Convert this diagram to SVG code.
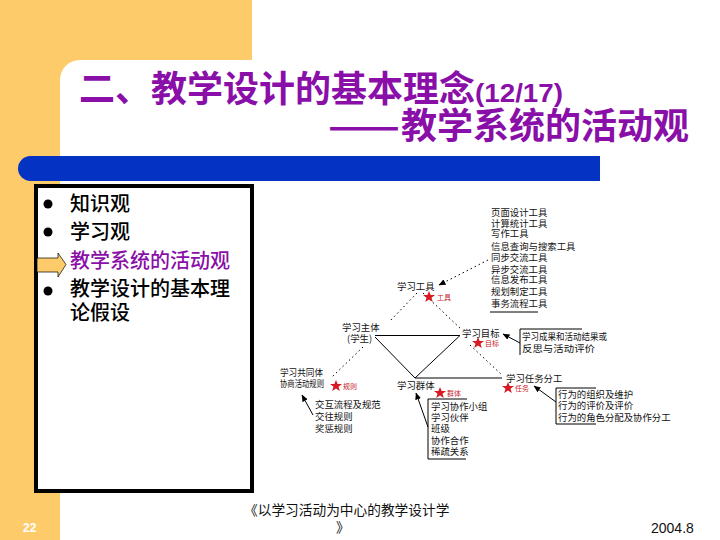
<svg xmlns="http://www.w3.org/2000/svg" width="720" height="540" viewBox="0 0 720 540">
<style>
text{font-family:"Liberation Sans","Noto Sans CJK SC",sans-serif}
.t{fill:#8a0fa8;font-size:36px;font-weight:700;font-family:"Noto Sans CJK SC",sans-serif}
.b{font-size:20px;fill:#000;font-family:"Noto Sans CJK SC",sans-serif;font-weight:500}
.s{font-size:9.400px;fill:#111;font-family:"Noto Sans CJK SC",sans-serif}
.r{font-size:7px;fill:#c8202a;font-family:"Noto Sans CJK SC",sans-serif}
.f{font-size:13.700px;fill:#111;font-family:"Noto Sans CJK SC",sans-serif}
.c{fill:none;stroke:#000}
.d{fill:none;stroke:#000;stroke-dasharray:1.500 3}
.st{fill:#d81822}
</style>
<defs>
<marker id="ah" markerWidth="7" markerHeight="6" refX="6.500" refY="3" orient="auto"><path d="M0 0L7 3L0 6Z" fill="#000"/></marker>
<polygon id="star" class="st" points="0,-6 1.600,-1.900 6,-1.900 2.500,.8 3.800,5 0,2.500 -3.800,5 -2.500,.8 -6,-1.900 -1.600,-1.900"/>
</defs>
<rect width="720" height="540" fill="#fff"/>
<g id="bg">
<path d="M0 0H252V60H80A20 20 0 0 0 60 80V540H0Z" fill="#fecb6b"/>
<path d="M600 156H30.500A12.500 12.500 0 0 0 30.500 181H600Z" fill="#0433c4"/>
</g>
<g id="title">
<text class="t" x="79" y="102">二、教学设计的基本理念</text>
<text x="475" y="102" font-size="26" font-weight="700" fill="#8a0fa8" textLength="88" lengthAdjust="spacingAndGlyphs">(12/17)</text>
<text class="t" x="328" y="139"><tspan textLength="72" lengthAdjust="spacingAndGlyphs">——</tspan><tspan x="401">教学系统的活动观</tspan></text>
</g>
<g id="outline">
<rect x="36" y="186" width="216" height="305" fill="#fff" stroke="#000" stroke-width="4"/>
<circle cx="48" cy="204" r="4.500"/>
<circle cx="48" cy="232" r="4.500"/>
<circle cx="48" cy="291" r="4.500"/>
<text class="b" x="70" y="211">知识观</text>
<text class="b" x="70" y="239">学习观</text>
<text class="b" x="70" y="268" style="fill:#8a0fa8">教学系统的活动观</text>
<text class="b" x="70" y="296">教学设计的基本理</text>
<text class="b" x="70" y="320">论假设</text>
<path d="M37 258H58V253L66 264.500L58 277V272H37Z" fill="#fecb6b" stroke="#000" stroke-width=".7"/>
</g>
<g id="connectors">
<path class="d" d="M488 260L439 285" marker-end="url(#ah)"/>
<path class="d" d="M417 293L389 322"/>
<path class="d" d="M423 293L462 330"/>
<path class="d" d="M470 345L502 375"/>
<path class="d" d="M363 347L332 377"/>
<path class="c" d="M375 335.500H460L415 378H502"/>
<path class="c" d="M375 337L415 378"/>
<path class="c" d="M313 415L302 395" marker-end="url(#ah)"/>
<path class="c" d="M428 427L416 393" marker-end="url(#ah)"/>
<path class="c" d="M520 343L503 334" marker-end="url(#ah)"/>
<path class="c" d="M556 402L534 386" marker-end="url(#ah)"/>
</g>
<g id="tools">
<text class="s" x="491" y="216">页面设计工具</text>
<text class="s" x="491" y="227">计算统计工具</text>
<text class="s" x="491" y="237">写作工具</text>
<text class="s" x="491" y="250">信息查询与搜索工具</text>
<text class="s" x="491" y="261">同步交流工具</text>
<text class="s" x="491" y="273">异步交流工具</text>
<text class="s" x="491" y="283">信息发布工具</text>
<text class="s" x="491" y="295">规划制定工具</text>
<text class="s" x="491" y="307">事务流程工具</text>
<path class="c" d="M490 312H538"/>
</g>
<g id="xgj">
<text class="s" x="397" y="290">学习工具</text>
<use href="#star" x="429" y="297"/>
<text class="r" x="437" y="300">工具</text>
</g>
<g id="zt">
<text class="s" x="342" y="331">学习主体</text>
<text class="s" x="347" y="342">(学生)</text>
</g>
<g id="mb">
<text class="s" x="462" y="337">学习目标</text>
<use href="#star" x="478" y="343"/>
<text class="r" x="485" y="346">目标</text>
</g>
<g id="mbbox">
<path class="c" d="M520 355V329H582"/>
<text class="s" x="522" y="340" textLength="85" lengthAdjust="spacingAndGlyphs">学习成果和活动结果或</text>
<text class="s" x="522" y="352" textLength="73" lengthAdjust="spacingAndGlyphs">反思与活动评价</text>
</g>
<g id="qt">
<text class="s" x="397" y="389">学习群体</text>
<use href="#star" x="440" y="393"/>
<text class="r" x="447" y="396">群体</text>
</g>
<g id="fg">
<text class="s" x="506" y="382">学习任务分工</text>
<use href="#star" x="508" y="388"/>
<text class="r" x="515" y="391">任务</text>
</g>
<g id="fgbox">
<path class="c" d="M596 388H556V424H596"/>
<text class="s" x="558" y="398">行为的组织及维护</text>
<text class="s" x="558" y="409">行为的评价及评价</text>
<text class="s" x="558" y="421">行为的角色分配及协作分工</text>
</g>
<g id="qtbox">
<path class="c" d="M467 399H428V459H466"/>
<text class="s" x="431" y="410">学习协作小组</text>
<text class="s" x="431" y="421">学习伙伴</text>
<text class="s" x="431" y="432">班级</text>
<text class="s" x="431" y="444">协作合作</text>
<text class="s" x="431" y="455">稀疏关系</text>
</g>
<g id="gt">
<text class="s" x="280" y="376" textLength="43" lengthAdjust="spacingAndGlyphs">学习共同体</text>
<text class="s" x="280" y="387" textLength="44" lengthAdjust="spacingAndGlyphs">协商活动规则</text>
<use href="#star" x="336" y="386"/>
<text class="r" x="343" y="389">规则</text>
</g>
<g id="gz">
<text class="s" x="315" y="408">交互流程及规范</text>
<text class="s" x="315" y="420">交往规则</text>
<text class="s" x="315" y="432">奖惩规则</text>
</g>
<g id="footer">
<text x="23" y="532" font-size="12" font-weight="700" fill="#fff">22</text>
<text class="f" x="244" y="515">《以学习活动为中心的教学设计学</text>
<text class="f" x="336" y="532">》</text>
<text x="651" y="533" font-size="14" fill="#111">2004.8</text>
</g>
</svg>
